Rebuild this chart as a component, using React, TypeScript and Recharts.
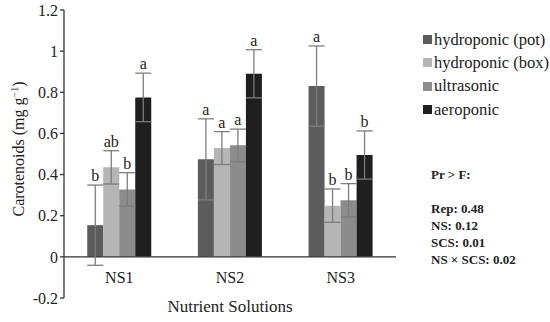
import React from 'react';
import { BarChart, Bar, XAxis, YAxis, ErrorBar, ReferenceLine, LabelList } from 'recharts';

const categories = ['NS1', 'NS2', 'NS3'];
const potValues = [0.154, 0.474, 0.83];
const potErrors = [0.195, 0.197, 0.195];
const boxValues = [0.435, 0.529, 0.249];
const boxErrors = [0.081, 0.08, 0.081];
const ultraValues = [0.328, 0.542, 0.275];
const ultraErrors = [0.081, 0.079, 0.081];
const aeroValues = [0.775, 0.89, 0.495];
const aeroErrors = [0.118, 0.117, 0.117];
const potLetters = ['b', 'a', 'a'];
const boxLetters = ['ab', 'a', 'b'];
const ultraLetters = ['b', 'a', 'b'];
const aeroLetters = ['a', 'a', 'b'];
const yTicks = [-0.2, 0, 0.2, 0.4, 0.6, 0.8, 1, 1.2];
const statsLines = ['Rep: 0.48', 'NS: 0.12', 'SCS: 0.01', 'NS × SCS: 0.02'];

const series = [
  { key: 'pot', name: 'hydroponic (pot)', color: '#5c5c5c', values: potValues, errors: potErrors, letters: potLetters },
  { key: 'box', name: 'hydroponic (box)', color: '#b5b5b5', values: boxValues, errors: boxErrors, letters: boxLetters },
  { key: 'ultra', name: 'ultrasonic', color: '#8c8c8c', values: ultraValues, errors: ultraErrors, letters: ultraLetters },
  { key: 'aero', name: 'aeroponic', color: '#1f1f1f', values: aeroValues, errors: aeroErrors, letters: aeroLetters },
];

const data = categories.map((c, i) => {
  const row: any = { name: c };
  series.forEach((s) => {
    row[s.key] = s.values[i];
    row[s.key + 'Err'] = s.errors[i];
  });
  return row;
});

const FONT = 'Liberation Serif, serif';

const makeLetterLabel = (s: any) => (props: any) => {
  const { x, y, width, height, index } = props;
  const v = s.values[index];
  const pxPerUnit = height / v;
  const top = y - s.errors[index] * pxPerUnit;
  return (
    <text x={x + width / 2} y={top - 4} textAnchor="middle" fontFamily={FONT} fontSize={16} fill="#222">
      {s.letters[index]}
    </text>
  );
};

const XTick = (props: any) => {
  const { x, y, payload } = props;
  return (
    <text x={x} y={y - 23} textAnchor="middle" fontFamily={FONT} fontSize={16} fill="#222">
      {payload.value}
    </text>
  );
};

const fmtY = (v: number) => (Math.abs(v) < 1e-9 ? '0' : String(Number(v.toFixed(1))));

const YLabel = () => (
  <text
    transform="translate(24,149) rotate(-90)"
    textAnchor="middle"
    fontFamily={FONT}
    fontSize={16}
    fill="#222"
  >
    Carotenoids (mg g<tspan dy={-6} fontSize={10}>−1</tspan><tspan dy={6}>)</tspan>
  </text>
);

export default function App() {
  return (
    <div style={{ position: 'absolute', left: 0, top: 0, width: 550, height: 322, background: '#fff' }}>
      <BarChart
        width={550}
        height={322}
        data={data}
        margin={{ top: 10, right: 154, bottom: 0, left: 0 }}
        barCategoryGap="21%"
        barGap={0}
      >
        <YAxis
          width={64}
          domain={[-0.2, 1.2]}
          ticks={yTicks}
          tickFormatter={fmtY}
          tickSize={4}
          tick={{ fontFamily: FONT, fontSize: 16, fill: '#222' }}
          axisLine={{ stroke: '#333', strokeWidth: 1.3 }}
          tickLine={{ stroke: '#333', strokeWidth: 1.3 }}
          label={<YLabel />}
          interval={0}
        />
        <XAxis
          dataKey="name"
          height={24}
          axisLine={false}
          tickLine={false}
          tick={<XTick />}
          interval={0}
          label={{ value: 'Nutrient Solutions', position: 'insideBottom', offset: 10, fontFamily: FONT, fontSize: 17, fill: '#222' }}
        />
        <ReferenceLine y={0} stroke="#333" strokeWidth={1.3} />
        {series.map((s) => (
          <Bar key={s.key} dataKey={s.key} name={s.name} fill={s.color} isAnimationActive={false}>
            <ErrorBar dataKey={s.key + 'Err'} width={8} stroke="#7d7d7d" strokeWidth={1.3} />
            <LabelList dataKey={s.key} content={makeLetterLabel(s)} />
          </Bar>
        ))}
      </BarChart>
      <div style={{ position: 'absolute', left: 423, top: 28, fontFamily: FONT, fontSize: 16.5, color: '#222' }}>
        {series.map((s) => (
          <div key={s.key} style={{ display: 'flex', alignItems: 'center', height: 23.3 }}>
            <span style={{ width: 9, height: 9, background: s.color, display: 'inline-block', marginRight: 2 }} />
            <span>{s.name}</span>
          </div>
        ))}
      </div>
      <div
        style={{
          position: 'absolute',
          left: 431,
          top: 166,
          fontFamily: FONT,
          fontSize: 13,
          fontWeight: 'bold',
          color: '#222',
          lineHeight: '17px',
        }}
      >
        <div>Pr &gt; F:</div>
        <div style={{ height: 17 }} />
        {statsLines.map((l) => (
          <div key={l}>{l}</div>
        ))}
      </div>
    </div>
  );
}
